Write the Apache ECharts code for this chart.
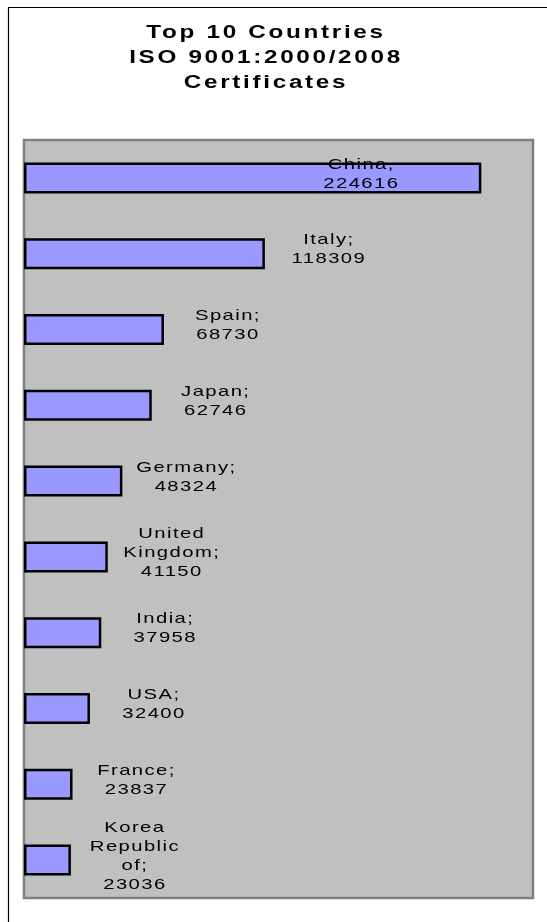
<!DOCTYPE html>
<html>
<head>
<meta charset="utf-8">
<title>Top 10 Countries ISO 9001 Certificates</title>
<script src="https://cdn.jsdelivr.net/npm/echarts@6/dist/echarts.min.js"></script>
<style>
  html, body { margin: 0; padding: 0; background: #ffffff; }
  #chart { width: 547px; height: 922px; }
</style>
</head>
<body>
<div id="chart"></div>
<script>
// Countries, top to bottom
const countries = [
  'China', 'Italy', 'Spain', 'Japan', 'Germany',
  'United Kingdom', 'India', 'USA', 'France', 'Korea Republic of'
];
// ISO 9001:2000/2008 certificates per country
const certificates = [
  224616, 118309, 68730, 62746, 48324,
  41150, 37958, 32400, 23837, 23036
];
const titleLines = ['Top 10 Countries', 'ISO 9001:2000/2008', 'Certificates'];

// All chart text is drawn widened with a little extra tracking.
const WIDEN = 1.35;
const TRACKING_BOLD = 0.11;   // em
const TRACKING_NORMAL = 0.07; // em
(function () {
  const proto = CanvasRenderingContext2D.prototype;
  const fill = proto.fillText;
  proto.fillText = function (text, x, y, maxWidth) {
    const m = /([\d.]+)px/.exec(this.font);
    const size = m ? parseFloat(m[1]) : 12;
    const track = /bold/.test(this.font) ? TRACKING_BOLD : TRACKING_NORMAL;
    this.save();
    this.translate(x, y);
    this.scale(WIDEN, 1);
    if ('letterSpacing' in this) this.letterSpacing = (size * track).toFixed(2) + 'px';
    fill.call(this, text, 0, 0);
    this.restore();
  };
})();

const FONT = '"Liberation Sans", Arial, sans-serif';

const labelBase = {
  show: true,
  position: 'right',
  distance: 64,
  align: 'center',
  verticalAlign: 'middle',
  offset: [0, -4],
  color: '#000000',
  textBorderWidth: 0,
  fontFamily: FONT,
  fontSize: 15,
  lineHeight: 19,
  formatter: function (p) {
    const sep = p.name === 'China' ? ',' : ';';
    return p.name.split(' ').join('\n') + sep + '\n' + p.value;
  }
};

const barData = certificates.map(function (v, i) {
  const item = { value: v, name: countries[i] };
  if (i === 0) {
    // the longest bar carries its label inside
    item.label = { position: 'insideRight', distance: 120 };
  }
  return item;
});

const chart = echarts.init(document.getElementById('chart'), null, { renderer: 'canvas' });
chart.setOption({
  animation: false,
  backgroundColor: '#ffffff',
  title: {
    text: titleLines.join('\n'),
    left: 266,
    top: 21,
    textAlign: 'center',
    padding: 0,
    textStyle: {
      fontFamily: FONT,
      fontWeight: 'bold',
      fontSize: 18,
      lineHeight: 25,
      color: '#000000'
    }
  },
  graphic: [{
    type: 'rect',
    silent: true,
    z: -1,
    shape: { x: 8.5, y: 7.5, width: 620, height: 1000 },
    style: { fill: 'none', stroke: '#000000', lineWidth: 1.2 }
  }],
  grid: {
    left: 24,
    top: 140,
    width: 509,
    height: 758,
    show: true,
    backgroundColor: '#c0c0c0',
    borderColor: '#808080',
    borderWidth: 2.5,
    containLabel: false
  },
  xAxis: {
    type: 'value',
    min: 0,
    max: 250000,
    show: false,
    splitLine: { show: false }
  },
  yAxis: {
    type: 'category',
    data: countries,
    inverse: true,
    show: false
  },
  series: [{
    type: 'bar',
    data: barData,
    barWidth: 31,
    itemStyle: {
      color: '#9999ff',
      borderColor: '#000000',
      borderWidth: 2.5
    },
    label: labelBase
  }]
});
</script>
</body>
</html>
